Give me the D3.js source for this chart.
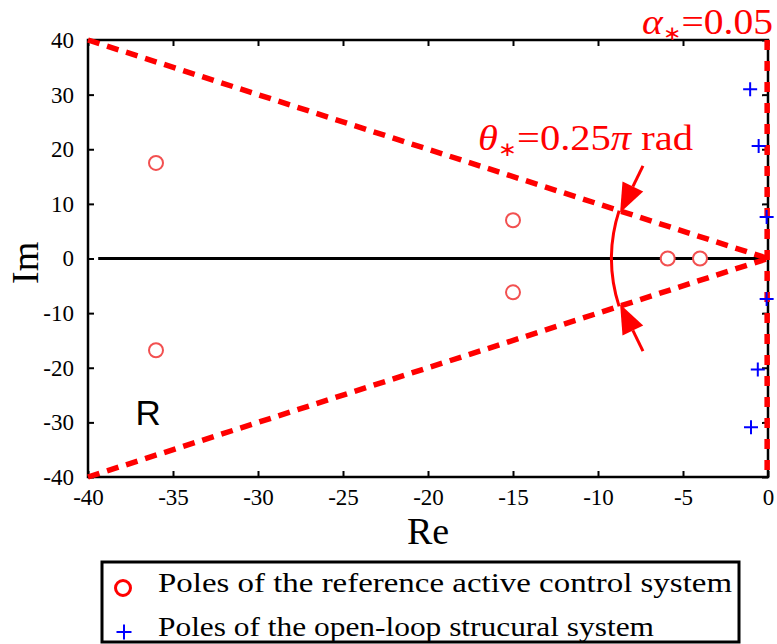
<!DOCTYPE html>
<html>
<head>
<meta charset="utf-8">
<script src="https://cdn.jsdelivr.net/npm/d3@7"></script>
<style>
  body { margin: 0; background: #fff; }
  svg { display: block; }
  .serif { font-family: "Liberation Serif", "Times New Roman", serif; }
</style>
</head>
<body>
<div id="chart"></div>
<script>
// poles of the reference active control system (closed loop)
const closedRe = [-36, -36, -15, -15, -5.9, -4.0];
const closedIm = [17.5, -16.8, 7.0, -6.2, 0, 0];
// poles of the open-loop structural system
const openRe = [-1.05, -0.55, -0.08, -0.08, -0.6, -1.0];
const openIm = [31.0, 20.6, 7.6, -7.4, -20.3, -30.9];

const xTicks = [-40, -35, -30, -25, -20, -15, -10, -5, 0];
const yTicks = [-40, -30, -20, -10, 0, 10, 20, 30, 40];

const thetaStar = 0.25;   // times pi
const alphaStar = 0.05;
const arcRadius = 9.2;    // along the real axis
const legendLabels = [
  "Poles of the reference active control system",
  "Poles of the open-loop strucural system"
];

const width = 777;
const height = 644;
const plot = { left: 88, right: 768, top: 40, bottom: 477 };

const svg = d3.select("#chart")
  .append("svg")
  .attr("width", width)
  .attr("height", height);

const x = d3.scaleLinear().domain([-40, 0]).range([plot.left, plot.right]);
const y = d3.scaleLinear().domain([-40, 40]).range([plot.bottom, plot.top]);

// axes, ticks inward on all sides
const tickLen = 6;
const styleAxis = (g) => {
  g.attr("font-family", null).attr("font-size", null).attr("class", "serif");
  g.select(".domain").remove();
  g.selectAll(".tick line").attr("stroke", "#000").attr("stroke-width", 2);
  g.selectAll("text").style("font-size", "23px").attr("fill", "#000");
};

svg.append("g")
  .attr("transform", `translate(0,${plot.bottom})`)
  .call(d3.axisBottom(x).tickValues(xTicks).tickSizeInner(-tickLen).tickSizeOuter(0)
    .tickPadding(12).tickFormat(d => d === 0 ? "0" : "-" + Math.abs(d)))
  .call(styleAxis);

svg.append("g")
  .attr("transform", `translate(0,${plot.top})`)
  .call(d3.axisTop(x).tickValues(xTicks).tickSizeInner(-tickLen).tickSizeOuter(0).tickFormat(""))
  .call(styleAxis);

svg.append("g")
  .attr("transform", `translate(${plot.left},0)`)
  .call(d3.axisLeft(y).tickValues(yTicks).tickSizeInner(-tickLen).tickSizeOuter(0)
    .tickPadding(14).tickFormat(d => d < 0 ? "-" + Math.abs(d) : String(d)))
  .call(styleAxis);

svg.append("g")
  .attr("transform", `translate(${plot.right},0)`)
  .call(d3.axisRight(y).tickValues(yTicks).tickSizeInner(-tickLen).tickSizeOuter(0).tickFormat(""))
  .call(styleAxis);

svg.append("rect")
  .attr("x", plot.left)
  .attr("y", plot.top)
  .attr("width", plot.right - plot.left)
  .attr("height", plot.bottom - plot.top)
  .attr("fill", "none")
  .attr("stroke", "#000")
  .attr("stroke-width", 2.5);

// axis titles
svg.append("text")
  .attr("class", "serif")
  .attr("x", x(-20))
  .attr("y", 544)
  .attr("text-anchor", "middle")
  .style("font-size", "38px")
  .text("Re");

svg.append("text")
  .attr("class", "serif")
  .attr("transform", `translate(38,${y(-0.8)}) rotate(-90)`)
  .attr("text-anchor", "middle")
  .style("font-size", "38px")
  .text("Im");

// real axis line
svg.append("line")
  .attr("x1", x(-39.4)).attr("x2", x(0))
  .attr("y1", y(0)).attr("y2", y(0))
  .attr("stroke", "#000")
  .attr("stroke-width", 3);

// damping sector boundaries
const red = "#ff0000";
[[-40, 40], [-40, -40]].forEach(p => {
  svg.append("line")
    .attr("x1", x(p[0])).attr("y1", y(p[1]))
    .attr("x2", x(0)).attr("y2", y(0))
    .attr("stroke", red)
    .attr("stroke-width", 5.5)
    .attr("stroke-dasharray", "12,8");
});

svg.append("line")
  .attr("x1", x(-alphaStar)).attr("x2", x(-alphaStar))
  .attr("y1", y(40)).attr("y2", y(-40))
  .attr("stroke", red)
  .attr("stroke-width", 5.5)
  .attr("stroke-dasharray", "10,11");

// angle arc with arrows
const cx = x(0), cy = y(0);
const r = cx - x(-arcRadius);
const a = Math.atan2(y(0) - y(40), x(0) - x(-40));
const arc = d3.path();
arc.arc(cx, cy, r, Math.PI - a, Math.PI + a);
svg.append("path")
  .attr("d", arc.toString())
  .attr("fill", "none")
  .attr("stroke", red)
  .attr("stroke-width", 3);

[1, -1].forEach(s => {
  const tip = [cx - r * Math.cos(a) + 1, cy - s * (r * Math.sin(a) - 2)];
  const d = [0.44, -0.9 * s];
  const tail = [tip[0] + 52 * d[0], tip[1] + 52 * d[1]];
  const base = [tip[0] + 29 * d[0], tip[1] + 29 * d[1]];
  const n = [-d[1], d[0]];
  svg.append("line")
    .attr("x1", tail[0]).attr("y1", tail[1])
    .attr("x2", base[0]).attr("y2", base[1])
    .attr("stroke", red)
    .attr("stroke-width", 3);
  svg.append("path")
    .attr("d", `M${tip[0]},${tip[1]}L${base[0] + 11.5 * n[0]},${base[1] + 11.5 * n[1]}L${base[0] - 11.5 * n[0]},${base[1] - 11.5 * n[1]}Z`)
    .attr("fill", red);
});

// annotation labels
const theta = svg.append("text")
  .attr("class", "serif")
  .attr("x", 478).attr("y", 150)
  .attr("textLength", 215)
  .attr("lengthAdjust", "spacingAndGlyphs")
  .style("font-size", "36px")
  .attr("fill", red);
theta.append("tspan").style("font-style", "italic").text("θ");
theta.append("tspan").style("font-size", "20px").attr("dy", 6).text("∗");
theta.append("tspan").attr("dy", -6).text("=" + thetaStar);
theta.append("tspan").style("font-style", "italic").text("π");
theta.append("tspan").text(" rad");

const alpha = svg.append("text")
  .attr("class", "serif")
  .attr("x", 642).attr("y", 34)
  .attr("textLength", 131)
  .attr("lengthAdjust", "spacingAndGlyphs")
  .style("font-size", "36px")
  .attr("fill", red);
alpha.append("tspan").style("font-style", "italic").text("α");
alpha.append("tspan").style("font-size", "20px").attr("dy", 6).text("∗");
alpha.append("tspan").attr("dy", -6).text("=" + alphaStar);

svg.append("text")
  .attr("x", x(-37.2))
  .attr("y", y(-30.4))
  .style("font-family", "'Liberation Sans', Arial, sans-serif")
  .style("font-size", "35px")
  .text("R");

// closed-loop poles
svg.selectAll("circle.pole")
  .data(closedRe)
  .enter()
  .append("circle")
  .attr("class", "pole")
  .attr("cx", d => x(d))
  .attr("cy", (d, i) => y(closedIm[i]))
  .attr("r", 7)
  .attr("fill", "#fff")
  .attr("stroke", "#f25050")
  .attr("stroke-width", 2);

// open-loop poles
const drawPlus = (g, px, py, size, color) => {
  g.append("path")
    .attr("d", `M${px - size / 2},${py}H${px + size / 2}M${px},${py - size / 2}V${py + size / 2}`)
    .attr("stroke", color)
    .attr("stroke-width", 2);
};
openRe.forEach((d, i) => drawPlus(svg, x(d), y(openIm[i]), 14, "#0000ff"));

// legend
const legend = svg.append("g");
legend.append("rect")
  .attr("x", 102).attr("y", 562)
  .attr("width", 637).attr("height", 80)
  .attr("fill", "#fff")
  .attr("stroke", "#000")
  .attr("stroke-width", 3);
legend.append("circle")
  .attr("cx", 123).attr("cy", 588).attr("r", 7.5)
  .attr("fill", "none")
  .attr("stroke", red)
  .attr("stroke-width", 3);
drawPlus(legend, 124, 632, 15, "#0000ff");
legend.selectAll("text")
  .data(legendLabels)
  .enter()
  .append("text")
  .attr("class", "serif")
  .attr("x", 158)
  .attr("y", (d, i) => 592 + i * 44)
  .style("font-size", "28px")
  .attr("textLength", (d, i) => i === 0 ? 574 : 496)
  .attr("lengthAdjust", "spacingAndGlyphs")
  .text(d => d);
</script>
</body>
</html>
